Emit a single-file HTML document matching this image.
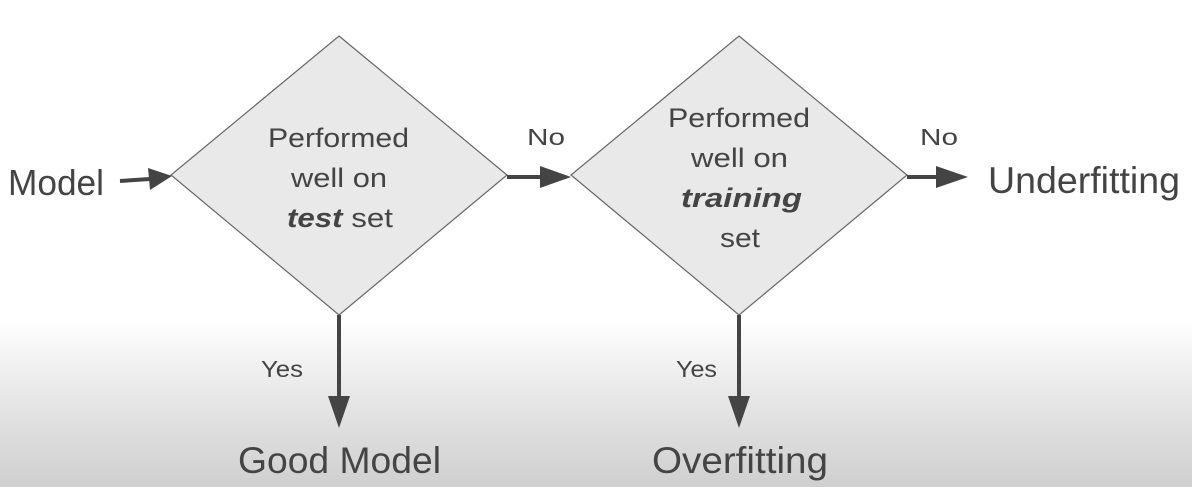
<!DOCTYPE html>
<html><head><meta charset="utf-8"><style>
html,body{margin:0;padding:0;}
body{width:1192px;height:487px;overflow:hidden;background:linear-gradient(to bottom,#fff 0px,#fff 320px,#e6e6e6 400px,#cfcfcf 487px);}
svg text{font-family:"Liberation Sans",sans-serif;fill:#444;}
</style></head><body>
<svg width="1192" height="487" viewBox="0 0 1192 487" xmlns="http://www.w3.org/2000/svg">
<polygon points="339,36 507,175 339,315 171,175" fill="#e9e9e9" stroke="#666" stroke-width="1.2"/>
<polygon points="739,36 907,175 739,315 571,175" fill="#e9e9e9" stroke="#666" stroke-width="1.2"/>
<g fill="#444" stroke="#444">
<line x1="120" y1="181" x2="150" y2="179" stroke-width="4"/>
<polygon points="148,168 172,176 150,190" stroke="none"/>
<line x1="507" y1="177" x2="542" y2="177" stroke-width="4"/>
<polygon points="540,166 571,177 540,188" stroke="none"/>
<line x1="907" y1="177" x2="938" y2="177" stroke-width="4"/>
<polygon points="936,166 968,177 936,188" stroke="none"/>
<line x1="339" y1="315" x2="339" y2="398" stroke-width="4"/>
<polygon points="328,396 350,396 339,428" stroke="none"/>
<line x1="739" y1="315" x2="739" y2="398" stroke-width="4"/>
<polygon points="728,396 750,396 739,428" stroke="none"/>
</g>
<text x="8" y="195" font-size="36" textLength="96" lengthAdjust="spacingAndGlyphs">Model</text>
<g font-size="27">
<text x="268" y="147" textLength="141" lengthAdjust="spacingAndGlyphs">Performed</text>
<text x="291" y="187" textLength="96" lengthAdjust="spacingAndGlyphs">well on</text>
<text x="287" y="227" textLength="106" lengthAdjust="spacingAndGlyphs"><tspan font-weight="bold" font-style="italic">test</tspan> set</text>
<text x="668" y="127" textLength="142" lengthAdjust="spacingAndGlyphs">Performed</text>
<text x="691" y="167" textLength="97" lengthAdjust="spacingAndGlyphs">well on</text>
<text x="681" y="207" font-weight="bold" font-style="italic" textLength="121" lengthAdjust="spacingAndGlyphs">training</text>
<text x="720" y="247" textLength="40" lengthAdjust="spacingAndGlyphs">set</text>
</g>
<text x="527" y="145" font-size="23" textLength="38" lengthAdjust="spacingAndGlyphs">No</text>
<text x="920" y="145" font-size="23" textLength="38" lengthAdjust="spacingAndGlyphs">No</text>
<text x="261" y="377" font-size="23" textLength="42" lengthAdjust="spacingAndGlyphs">Yes</text>
<text x="676" y="377" font-size="23" textLength="41" lengthAdjust="spacingAndGlyphs">Yes</text>
<text x="988" y="193" font-size="37" textLength="192" lengthAdjust="spacingAndGlyphs">Underfitting</text>
<text x="238" y="473" font-size="37" textLength="203" lengthAdjust="spacingAndGlyphs">Good Model</text>
<text x="652" y="473" font-size="37" textLength="176" lengthAdjust="spacingAndGlyphs">Overfitting</text>
</svg>
</body></html>
